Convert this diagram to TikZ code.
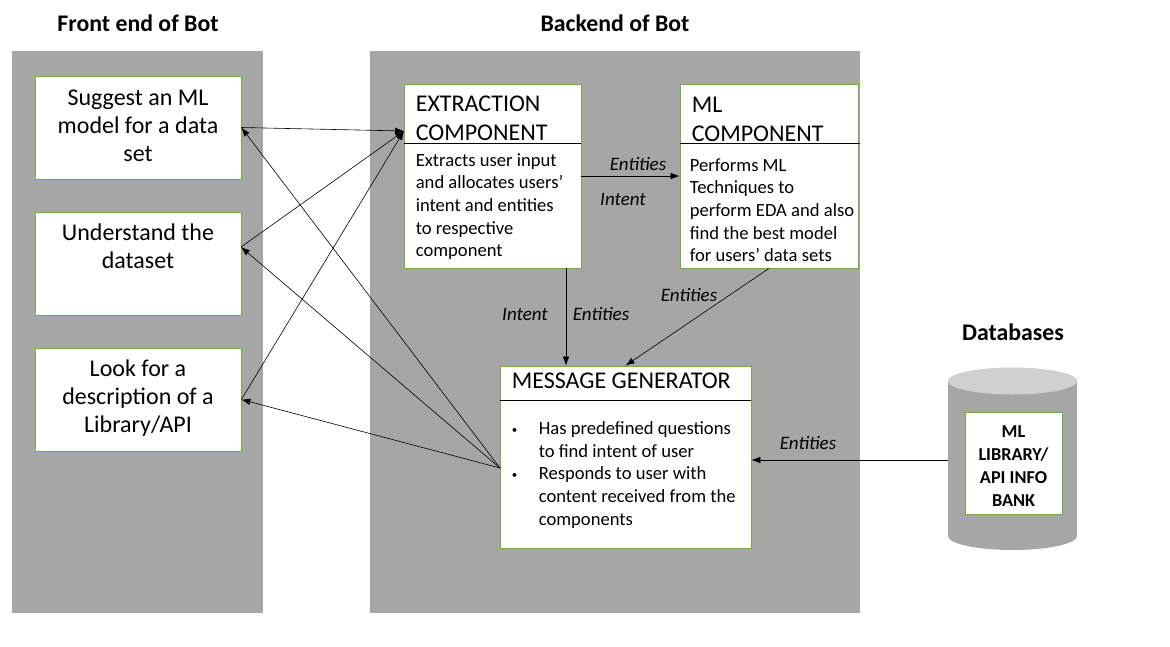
\documentclass[tikz,border=0pt]{standalone}
\usepackage{fontspec}
\setmainfont{Carlito}
\usetikzlibrary{arrows}
\usetikzlibrary{positioning}
\usetikzlibrary{arrows.meta}
\usetikzlibrary{calc}

\definecolor{panelgray}{HTML}{A6A6A6}
\definecolor{lidgray}{HTML}{D0D0D0}
\definecolor{boxgreen}{HTML}{70AD47}

\newcommand{\dotitem}{\makebox[27pt][l]{\raisebox{1.5pt}{\fontsize{11}{11}\selectfont\textbullet}}}

\begin{document}
\begin{tikzpicture}[
      x = 1pt, y = -1pt,
      >={Latex[length = 9pt, width = 6.5pt]},
      panel/.style = { fill = panelgray },
      box/.style = {
        rectangle, draw = boxgreen, fill = white,
        line width = 0.75pt, inner sep = 0pt
      },
      title/.style = { font = \fontsize{23.8}{28}\selectfont\bfseries, anchor = base },
      head/.style = {
        font = \fontsize{24}{29}\selectfont,
        align = left, anchor = north west, inner sep = 0pt
      },
      body/.style = {
        font = \fontsize{18.6}{22.6}\selectfont,
        align = left, anchor = north west, inner sep = 0pt
      },
      task/.style = {
        font = \fontsize{24}{28}\selectfont,
        align = center, anchor = north, inner sep = 0pt
      },
      flow/.style = { font = \fontsize{19}{22}\selectfont\itshape, anchor = base },
      link/.style = { ->, line width = 0.6pt },
    ]

    \useasboundingbox (0,0) rectangle (1170,646);

    % panels
    \fill[panel] (12,51) rectangle (263,613);
    \fill[panel] (370,51) rectangle (860,613);

    \node[title] (fronttitle) at (138,31) {Front end of Bot};
    \node[title] (backtitle) at (615,31) {Backend of Bot};
    \node[title] (dbtitle) at (1013,340) {Databases};

    % front end
    \node[box, minimum width = 206pt, minimum height = 103pt] (task1) at (138,127.5) {};
    \node[box, minimum width = 206pt, minimum height = 103pt] (task2) at (138,263.5) {};
    \node[box, minimum width = 206pt, minimum height = 103pt] (task3) at (138,399.5) {};
    \node[task] (suggest) at ([yshift = -10.4pt]task1.north) {\strut Suggest an ML\\model for a data\\set};
    \node[task] (understand) at ([yshift = -9.4pt]task2.north) {\strut Understand the\\dataset};
    \node[task] (lookup) at ([yshift = -9.4pt]task3.north) {\strut Look for a\\description of a\\Library/API};

    % backend
    \node[box, minimum width = 177pt, minimum height = 184pt] (ext) at (492.5,176) {};
    \node[box, minimum width = 178pt, minimum height = 184pt] (ml) at (769,176) {};
    \node[box, minimum width = 251pt, minimum height = 182pt] (mg) at (625.5,457) {};
    \draw[line width = 0.75pt] ([yshift = -60pt]ext.north west) -- ([yshift = -60pt]ext.north east);
    \draw[line width = 0.75pt] ([yshift = -60pt]ml.north west) -- ([yshift = -60pt, xshift = 2pt]ml.north east);
    \draw[line width = 0.75pt] ([yshift = -35pt]mg.north west) -- ([yshift = -35pt]mg.north east);

    \node[head] (exthead) at ([xshift = 12pt, yshift = -7pt]ext.north west) {\strut EXTRACTION\\COMPONENT};
    \node[body] (exttext) at ([xshift = 12pt, yshift = -66.7pt]ext.north west)
      {\strut Extracts user input\\and allocates users’\\intent and entities\\to respective\\component};
    \node[head] (mlhead) at ([xshift = 12pt, yshift = -8pt]ml.north west) {\strut ML\\COMPONENT};
    \node[body] (mltext) at ([xshift = 10pt, yshift = -71.7pt]ml.north west)
      {\strut Performs ML\\Techniques to\\perform EDA and also\\find the best model\\for users’ data sets};
    \node[head] (mghead) at ([xshift = 12pt, yshift = -2.7pt]mg.north west) {\strut MESSAGE GENERATOR};
    \node[body] (mgtext) at ([xshift = 12pt, yshift = -53pt]mg.north west)
      {\strut\dotitem Has predefined questions\\
       \hspace*{27pt}to find intent of user\\
       \dotitem Responds to user with\\
       \hspace*{27pt}content received from the\\
       \hspace*{27pt}components};

    % database
    \fill[panelgray] (948,381) rectangle (1077,536);
    \fill[panelgray] (1012.5,536) ellipse [x radius = 64.5, y radius = 14];
    \fill[lidgray] (1012.5,381) ellipse [x radius = 64.5, y radius = 13.5];
    \node[box, minimum width = 97pt, minimum height = 102pt] (bank) at (1013.5,463) {};
    \node[task, font = \fontsize{18.2}{23}\selectfont\bfseries] (banktext) at ([yshift = -9.5pt]bank.north)
      {\strut ML\\LIBRARY/\\API INFO\\BANK};

    % connectors
    \coordinate (extin) at (404,131);
    \coordinate (mgout) at (500,468);
    \coordinate (task2in) at (241,247);
    \coordinate (extdown) at (566,268);
    \coordinate (dbout) at (948,460);

    \draw[link] (task1.east) -- (extin);
    \draw[link] (task2in) -- (extin);
    \draw[link] (task3.east) -- (extin);
    \draw[link] (mgout) -- (task1.east);
    \draw[link] (mgout) -- (task2in);
    \draw[link] (mgout) -- (task3.east);
    \draw[link] (ext.east) -- (ml.west);
    \draw[link] (extdown) -- (extdown |- mg.north);
    \draw[link] (ml.south) -- (mg.north);
    \draw[link] (dbout) -- (dbout -| mg.east);

    \node[flow] (extml) at (638,170) {Entities};
    \node[flow] (extmlint) at (623,205) {Intent};
    \node[flow] (extmgint) at (525,320) {Intent};
    \node[flow] (extmg) at (601,320) {Entities};
    \node[flow] (mlmg) at (689,301) {Entities};
    \node[flow] (dbmg) at (808,449) {Entities};
  \end{tikzpicture}
\end{document}
